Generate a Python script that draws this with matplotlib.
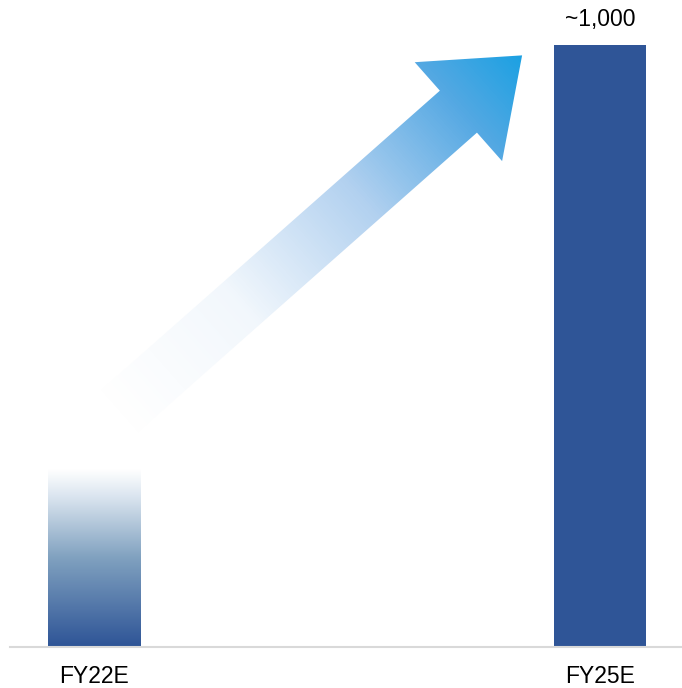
import numpy as np
import matplotlib
matplotlib.use("Agg")
import matplotlib.pyplot as plt
from matplotlib.colors import LinearSegmentedColormap
from matplotlib.path import Path
from matplotlib.patches import PathPatch

plt.rcParams['font.family'] = ['Liberation Sans', 'DejaVu Sans']

# data
years = ["FY22E", "FY25E"]
values = [295, 1000]
value_label = "~1,000"

bar_blue = "#2F5597"
W, H = 682, 688

fig = plt.figure(figsize=(W / 100, H / 100), dpi=100)
ax = fig.add_axes([10 / W, 41 / H, 672 / W, 647 / H])
x = np.arange(len(years))
bw = 0.182
bars = ax.bar(x, values, width=bw, color=["none", bar_blue], edgecolor="none", zorder=2)
ax.set_xlim(-0.166, 1.162)
ax.set_ylim(0, 1075)

# gradient fill for the first bar (dark at bottom, fading to white on top)
bar_cmap = LinearSegmentedColormap.from_list(
    "barfade", [(0, (0.18, 0.33, 0.59)), (0.5, (0.50, 0.63, 0.75)),
                (0.85, (0.86, 0.90, 0.94)), (1, (1, 1, 1))])
grad = np.linspace(0, 1, 256).reshape(-1, 1)
im = ax.imshow(grad, cmap=bar_cmap, aspect="auto", origin="lower",
               extent=(x[0] - bw / 2, x[0] + bw / 2, 0, values[0]), zorder=2)
im.set_clip_path(bars[0])

ax.set_xticks(x)
ax.set_xticklabels(years, fontsize=16.5)
ax.tick_params(axis="x", length=0, pad=13)
ax.set_yticks([])
for s in ["top", "right", "left"]:
    ax.spines[s].set_visible(False)
ax.spines["bottom"].set_color("#D9D9D9")
ax.spines["bottom"].set_linewidth(1.5)

ax.annotate(value_label, (x[1], values[1]), xytext=(0, 10), textcoords="offset points",
            ha="center", va="bottom", fontsize=16.5)

# growth arrow, drawn in pixel space on an overlay axes
ov = fig.add_axes([0, 0, 1, 1], zorder=1)
ov.set_xlim(0, W)
ov.set_ylim(H, 0)
ov.axis("off")


def to_px(px, py):
    dx, dy = ax.transData.transform((px, py))
    return np.array([dx, H - dy])


tail = to_px(x[0] + 0.047, values[0] * 1.32)
tip = to_px(x[1] - 0.154, values[1] * 0.983)
u = (tip - tail) / np.linalg.norm(tip - tail)
v = np.array([u[1], -u[0]])
L = np.linalg.norm(tip - tail)
head_len, head_half, shaft_half = 85, 66, 28
base = tip - u * head_len
pts = [tail + v * shaft_half, base + v * shaft_half, base + v * head_half, tip,
       base - v * head_half, base - v * shaft_half, tail - v * shaft_half, tail + v * shaft_half]
poly = PathPatch(Path(pts, closed=True), facecolor="none", edgecolor="none",
                 transform=ov.transData)
ov.add_patch(poly)

arrow_cmap = LinearSegmentedColormap.from_list(
    "arrow", [(0, (1, 1, 1)), (0.3, (0.95, 0.97, 0.99)), (0.6, (0.70, 0.82, 0.94)),
              (0.85, (0.33, 0.66, 0.89)), (1, (0.11, 0.63, 0.89))])
gx, gy = np.meshgrid(np.arange(W) + 0.5, np.arange(H) + 0.5)
t = ((gx - tail[0]) * u[0] + (gy - tail[1]) * u[1]) / L
t = np.clip(t, 0, 1)
aim = ov.imshow(arrow_cmap(t), extent=(0, W, H, 0), interpolation="bilinear")
aim.set_clip_path(poly)
ov.set_xlim(0, W)
ov.set_ylim(H, 0)

fig.savefig("out.png", dpi=100)
